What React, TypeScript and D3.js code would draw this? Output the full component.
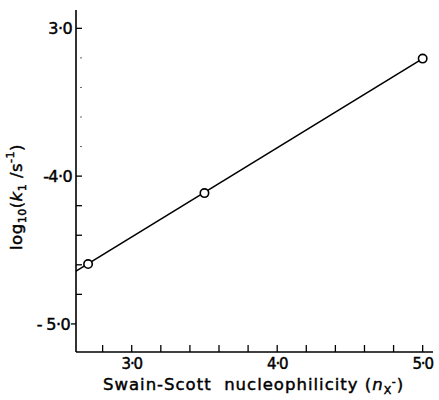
import React from "react";
import * as d3 from "d3";

const xDomain = [2.617, 5.071];
const yDomain = [-5.19, -2.876];
const xMajorTicks = [3.0, 4.0, 5.0];
const xMajorLabels = ["3·0", "4·0", "5·0"];
const xMinorTicks = [2.8, 3.2, 3.4, 3.6, 3.8, 4.2, 4.4, 4.6, 4.8];
const yMajorTicks = [-3.0, -4.0, -5.0];
const yMajorLabels = ["3·0", "-4·0", "- 5·0"];
const yMinorTicks = [-3.2, -3.4, -3.6, -3.8, -4.2, -4.4, -4.6, -4.8];

const nucleophilicity = [2.7, 3.5, 5.0];
const logK = [-4.595, -4.115, -3.205];

const fitX = [2.617, 5.0];
const fitY = [-4.643, -3.205];

export default function App() {
  const W = 439, H = 400;
  const left = 76, right = 433, top = 10, bottom = 352;
  const x = d3.scaleLinear().domain(xDomain).range([left, right]);
  const y = d3.scaleLinear().domain(yDomain).range([bottom, top]);
  const line = d3.line<number>().x((_, i) => x(fitX[i])).y((d) => y(d));
  const font = "'DejaVu Sans', sans-serif";
  const sw = 1.6;
  const textStroke = { stroke: "#000", strokeWidth: 0.45 };
  return (
    <svg width={W} height={H} style={{ position: "absolute", left: 0, top: 0, background: "#fff" }}>
      <rect width={W} height={H} fill="#fff" />
      <line x1={left} y1={top} x2={left} y2={bottom} stroke="#000" strokeWidth={sw} />
      <line x1={left} y1={bottom} x2={right} y2={bottom} stroke="#000" strokeWidth={sw} />
      {[...xMajorTicks, ...xMinorTicks].map((t) => (
        <line key={"xt" + t} x1={x(t)} x2={x(t)} y1={bottom} y2={bottom - 7} stroke="#000" strokeWidth={1.3} />
      ))}
      {xMajorTicks.map((t, i) => (
        <text key={"xl" + t} x={x(t)} y={369} textAnchor="middle" fontFamily={font} fontSize={15} letterSpacing={-1.2} {...textStroke}>
          {xMajorLabels[i]}
        </text>
      ))}
      {yMajorTicks.map((t) => (
        <line key={"yt" + t} x1={t === -5 ? left - 5 : left} x2={t === -5 ? left : left + 6} y1={y(t)} y2={y(t)} stroke="#000" strokeWidth={1.3} />
      ))}
      {yMinorTicks.map((t) => (
        <line key={"ym" + t} x1={t > -4 ? left + 4 : left} x2={left + 6} y1={y(t)} y2={y(t)} stroke={t > -4 ? "#666" : "#000"} strokeWidth={t > -4 ? 1 : 1.3} />
      ))}
      {yMajorTicks.map((t, i) => (
        <text key={"yl" + t} x={t === -5 ? 70 : 72} y={y(t) + 6} textAnchor="end" fontFamily={font} fontSize={16} letterSpacing={-0.6} {...textStroke}>
          {yMajorLabels[i]}
        </text>
      ))}
      <path d={line(fitY) || ""} fill="none" stroke="#000" strokeWidth={1.6} />
      {nucleophilicity.map((v, i) => (
        <circle key={"p" + i} cx={x(v)} cy={y(logK[i])} r={4.2} fill="#fff" stroke="#000" strokeWidth={1.6} />
      ))}
      <text x={103} y={390} fontFamily={font} fontSize={16.5} letterSpacing={1} style={{ whiteSpace: "pre" }} {...textStroke}>
        {"Swain-Scott  nucleophilicity ("}
        <tspan fontStyle="italic">n</tspan>
        <tspan fontSize={11} dy={4}>X</tspan>
        <tspan fontSize={11} dy={-9}>-</tspan>
        <tspan dy={5}>)</tspan>
      </text>
      <text transform="translate(22,197) rotate(-90)" textAnchor="middle" fontFamily={font} fontSize={16.5} letterSpacing={0.5} style={{ whiteSpace: "pre" }} {...textStroke}>
        {"log"}
        <tspan fontSize={11} dy={4}>10</tspan>
        <tspan dy={-4}>(</tspan>
        <tspan fontStyle="italic">k</tspan>
        <tspan fontSize={11} dy={4}>1</tspan>
        <tspan dy={-4}>{" /s"}</tspan>
        <tspan fontSize={11} dy={-8}>-1</tspan>
        <tspan dy={8}>)</tspan>
      </text>
    </svg>
  );
}
